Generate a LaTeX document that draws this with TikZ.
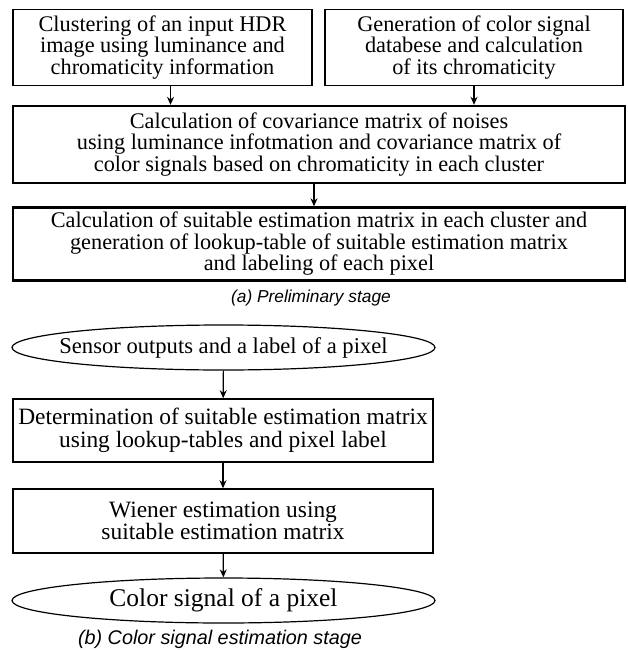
\documentclass[tikz,border=0pt]{standalone}
\usepackage{fontspec}
\setmainfont{Liberation Serif}
\setsansfont{Liberation Sans}
\usepackage{tikz}
\usetikzlibrary{arrows.meta, arrows}
\usetikzlibrary{shapes.geometric, positioning}
\usepackage{xcolor}

\begin{document}
\begin{tikzpicture}[
  x=1pt, y=1pt,
  stage-box/.style={draw, rectangle, align=center, inner sep=0pt, font=\fontsize{22.3}{21.5}\selectfont},
  low-box/.style={stage-box, line width=1.5pt, minimum width=420pt, font=\fontsize{23.4}{22.5}\selectfont},
  io-ell/.style={draw, ellipse, line width=1.2pt, inner ysep=0pt, inner xsep=-20pt, minimum width=423pt, minimum height=45pt},
  stage-cap/.style={font=\sffamily\itshape\fontsize{17.3}{19}\selectfont},
  flow/.style={-{Stealth[length=8pt, width=7pt]}, line width=1.2pt}
]
\useasboundingbox (0,0) rectangle (628,-650);

% (a) preliminary stage
\node (clust) [stage-box, line width=1.3pt, minimum width=299pt, minimum height=76pt] at (162.5,-47.5) {Clustering of an input HDR\\image using luminance and\\chromaticity information};
\node (gen) [stage-box, line width=1.3pt, minimum width=298pt, minimum height=76pt] at (474,-47.5) {Generation of color signal\\databese and calculation\\of its chromaticity};

\node (cov) [stage-box, line width=2.4pt, minimum width=612pt, minimum height=77pt] at (319,-144.5) {Calculation of covariance matrix of noises\\using luminance infotmation and covariance matrix of\\color signals based on chromaticity in each cluster};

\node (est) [stage-box, line width=2.4pt, minimum width=612pt, minimum height=73pt] at (319,-244) {Calculation of suitable estimation matrix in each cluster and\\generation of lookup-table of suitable estimation matrix\\and labeling of each pixel};

\node (capa) [stage-cap] at (311,-298) {(a) Preliminary stage};

% (b) color signal estimation stage
\node (sens) [io-ell, font=\fontsize{22.6}{22}\selectfont] at (223.5,-347.5) {Sensor outputs and a label of a pixel};
\node (det) [low-box, minimum height=63pt] at (223,-430.5) {Determination of suitable estimation matrix\\using lookup-tables and pixel label};
\node (wien) [low-box, minimum height=64pt] at (223,-521) {Wiener estimation using\\suitable estimation matrix};
\node (col) [io-ell, font=\fontsize{25.5}{22}\selectfont] at (223.5,-600.5) {Color signal of a pixel};

\node (capb) [stage-cap, font=\sffamily\itshape\fontsize{19.8}{21}\selectfont] at (220,-639) {(b) Color signal estimation stage};

\draw[flow] ([xshift=8pt]clust.south) -- ([xshift=8pt]clust.south |- cov.north);
\draw[flow] (gen) -- (gen |- cov.north);
\draw[flow] ([xshift=-5pt]cov.south) -- ([xshift=-5pt]est.north);
\draw[flow] (sens) -- (det);
\draw[flow] (det) -- (wien);
\draw[flow] (wien) -- (col);
\end{tikzpicture}
\end{document}
